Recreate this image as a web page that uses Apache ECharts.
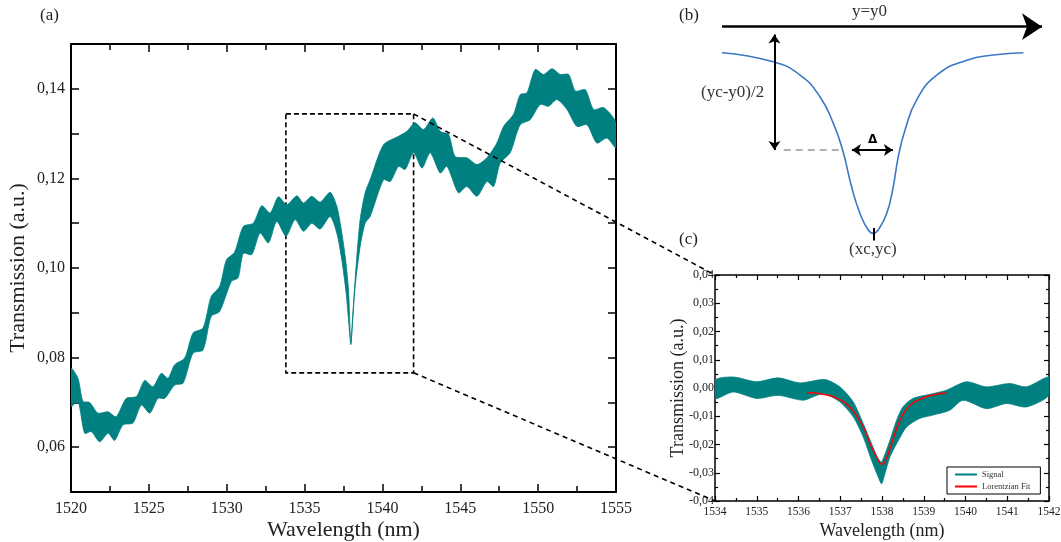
<!DOCTYPE html>
<html>
<head>
<meta charset="utf-8">
<script src="https://cdn.jsdelivr.net/npm/echarts@6/dist/echarts.min.js"></script>
<style>
html,body{margin:0;padding:0;background:#fff;}
#chart{width:1061px;height:542px;}
</style>
</head>
<body>
<div id="chart"></div>
<script>
// ---------- Panel (a): measured transmission band (upper / lower envelope) ----------
const mainUpX = [1520.0,1520.45,1520.77,1521.2,1521.73,1522.38,1522.9,1523.55,1524.2,1524.73,1525.27,1525.8,1526.23,1526.66,1527.3,1527.84,1528.48,1529.0,1529.55,1529.98,1530.5,1531.07,1531.71,1532.25,1532.79,1533.32,1533.86,1534.5,1534.93,1535.46,1536.0,1536.64,1537.07,1537.29,1537.61,1537.82,1537.97,1538.1,1538.31,1538.57,1538.89,1539.21,1540.07,1541.04,1541.57,1542.1,1542.64,1543.24,1543.71,1544.25,1544.67,1545.42,1546.07,1546.71,1547.35,1547.78,1548.42,1548.85,1549.28,1549.81,1550.35,1550.89,1551.42,1551.96,1552.39,1553.03,1553.56,1554.21,1555.0];
const mainUpY = [0.0776,0.0754,0.0702,0.0700,0.0676,0.0679,0.0668,0.0709,0.0713,0.0749,0.0735,0.0765,0.0754,0.0784,0.0799,0.0855,0.0866,0.0936,0.0959,0.1018,0.1035,0.1093,0.1100,0.1139,0.1123,0.1159,0.1141,0.1161,0.1145,0.1160,0.1147,0.1169,0.1138,0.1100,0.1026,0.0951,0.0832,0.0899,0.1004,0.1108,0.1168,0.1197,0.1275,0.1294,0.1305,0.1324,0.1309,0.1335,0.1305,0.1298,0.1249,0.1246,0.1231,0.1246,0.1279,0.1316,0.1343,0.1387,0.1391,0.1443,0.1432,0.1445,0.1432,0.1432,0.1395,0.1398,0.1354,0.1358,0.1324];
const mainLoX = [1520.0,1520.45,1520.88,1521.3,1521.84,1522.38,1522.8,1523.34,1523.98,1524.52,1525.06,1525.59,1526.02,1526.66,1527.2,1527.84,1528.48,1529.0,1529.55,1530.3,1530.73,1531.07,1531.61,1532.14,1532.68,1533.21,1533.81,1534.39,1534.93,1535.46,1536.0,1536.64,1537.07,1537.39,1537.67,1537.86,1537.97,1538.05,1538.25,1538.57,1538.89,1539.21,1540.07,1540.5,1541.04,1541.46,1542.0,1542.54,1543.07,1543.71,1544.14,1544.88,1545.42,1546.07,1546.71,1547.14,1547.56,1548.2,1548.85,1549.49,1550.13,1550.67,1551.2,1551.85,1552.49,1553.13,1553.77,1554.42,1555.0];
const mainLoY = [0.0691,0.0702,0.0631,0.0635,0.0612,0.0631,0.0615,0.0650,0.0654,0.0694,0.0676,0.0709,0.0709,0.0739,0.0743,0.0810,0.0817,0.0892,0.0903,0.0970,0.0978,0.1033,0.1030,0.1078,0.1056,0.1104,0.1071,0.1108,0.1082,0.1100,0.1087,0.1115,0.1078,0.1018,0.0944,0.0869,0.0829,0.0862,0.0959,0.1048,0.1100,0.1115,0.1197,0.1193,0.1227,0.1220,0.1257,0.1223,0.1257,0.1212,0.1227,0.1168,0.1182,0.1160,0.1193,0.1182,0.1234,0.1257,0.1320,0.1331,0.1365,0.1361,0.1376,0.1354,0.1316,0.1320,0.1279,0.1290,0.1268];
const mainXTickLabels = ['1520','1525','1530','1535','1540','1545','1550','1555'];
const mainYTicks = [0.06,0.08,0.10,0.12,0.14];
const mainYTickLabels = ['0,06','0,08','0,10','0,12','0,14'];
// zoom window drawn on panel (a)
const zoomBoxX = [1533.8, 1542.0];
const zoomBoxY = [0.0766, 0.1344];

// ---------- Panel (c): zoomed signal band + Lorentzian fit ----------
const insetUpX = [1534.0,1534.44,1535.0,1535.51,1536.03,1536.63,1536.99,1537.31,1537.55,1537.75,1537.91,1537.99,1538.19,1538.35,1538.5,1538.74,1539.22,1539.54,1540.02,1540.5,1541.06,1541.46,1542.0];
const insetUpY = [0.0028,0.0039,0.0022,0.0036,0.0018,0.0030,0.0004,-0.0049,-0.0126,-0.0197,-0.0250,-0.0262,-0.0185,-0.0114,-0.0067,-0.0037,-0.0020,-0.0008,0.0022,0.0004,0.0016,0.0004,0.0039];
const insetLoX = [1534.0,1534.44,1535.0,1535.51,1536.11,1536.59,1536.99,1537.31,1537.55,1537.75,1537.91,1537.99,1538.07,1538.19,1538.35,1538.59,1538.9,1539.22,1539.62,1539.94,1540.5,1540.98,1541.46,1542.0];
const insetLoY = [-0.0037,-0.0014,-0.0037,-0.0026,-0.0043,-0.0020,-0.0049,-0.0102,-0.0173,-0.0256,-0.0315,-0.0339,-0.0303,-0.0244,-0.0197,-0.0138,-0.0108,-0.0096,-0.0079,-0.0043,-0.0073,-0.0055,-0.0067,-0.0026];
const fitX = [1536.21,1536.83,1537.23,1537.55,1537.75,1537.91,1537.99,1538.07,1538.23,1538.43,1538.67,1539.06,1539.54];
const fitY = [-0.0016,-0.0031,-0.0067,-0.0138,-0.0209,-0.0256,-0.0270,-0.0262,-0.0197,-0.0114,-0.0061,-0.0031,-0.0017];
const insetXTickLabels = ['1534','1535','1536','1537','1538','1539','1540','1541','1542'];
const insetYTicks = [-0.04,-0.03,-0.02,-0.01,0,0.01,0.02,0.03,0.04];
const insetYTickLabels = ['-0,04','-0,03','-0,02','-0,01','0,00','0,01','0,02','0,03','0,04'];

// ---------- Panel (b): schematic Lorentzian dip (normalised units) ----------
const schemX = [0.0,0.160,0.244,0.306,0.348,0.377,0.405,0.431,0.457,0.473,0.488,0.515,0.535,0.551,0.572,0.608,0.671,0.765,0.848,0.942];
const schemY = [0.874,0.830,0.766,0.661,0.532,0.403,0.225,0.097,0.016,0.0,0.016,0.097,0.225,0.371,0.500,0.645,0.766,0.838,0.863,0.874];
const schemBaseline = 1.0;     // y = y0
const schemHalf = 0.403;       // half-depth level
const schemArrowX = 0.164;     // (yc-y0)/2 arrow position
const schemDeltaX = [0.406, 0.534];
const schemCenterX = 0.473;

const FONT = 'Liberation Serif';
const TXT = '#222';

function pickLabel(ticks, labels) {
  return function (v) {
    for (let i = 0; i < ticks.length; i++) if (Math.abs(v - ticks[i]) < 1e-7) return labels[i];
    return '';
  };
}
function xLabel(labels) {
  return function (v) {
    for (let i = 0; i < labels.length; i++) if (Math.abs(v - Number(labels[i])) < 1e-7) return labels[i];
    return '';
  };
}
function bandRender(xu, yu, xl, yl) {
  return function (params, api) {
    const pts = [];
    for (let i = 0; i < xu.length; i++) pts.push(api.coord([xu[i], yu[i]]));
    for (let i = xl.length - 1; i >= 0; i--) pts.push(api.coord([xl[i], yl[i]]));
    const cs = params.coordSys;
    return {
      type: 'polygon',
      shape: { points: pts, smooth: 0.25 },
      style: { fill: '#008080', stroke: '#008080', lineWidth: 0.8 },
      clipPath: { type: 'rect', shape: { x: cs.x, y: cs.y, width: cs.width, height: cs.height } }
    };
  };
}

const mainAxisLine = { show: true, onZero: false, lineStyle: { color: '#000', width: 2 } };
const insetAxisLine = { show: true, onZero: false, lineStyle: { color: '#000', width: 1.5 } };

const chart = echarts.init(document.getElementById('chart'), null, { renderer: 'canvas' });

const option = {
  animation: false,
  backgroundColor: '#fff',
  textStyle: { fontFamily: FONT, color: TXT },
  grid: [
    { left: 71, right: 445, top: 44, bottom: 50, containLabel: false, outerBoundsMode: 'none' },
    { left: 715, right: 12, top: 275, bottom: 41, containLabel: false, outerBoundsMode: 'none' },
    { left: 722, width: 320, top: 26.7, height: 247.9, containLabel: false, outerBoundsMode: 'none' }
  ],
  legend: {
    data: [
      { name: 'Signal', icon: 'rect' },
      { name: 'Lorentzian Fit', icon: 'rect' }
    ],
    orient: 'vertical',
    left: 947, top: 467,
    itemWidth: 22, itemHeight: 2, itemGap: 3,
    padding: [3, 10, 3, 8],
    borderColor: '#000', borderWidth: 1,
    backgroundColor: '#fff',
    textStyle: { fontFamily: FONT, fontSize: 8.5, color: '#333' },
    selectedMode: false
  },
  xAxis: [
    { gridIndex: 0, type: 'value', min: 1520, max: 1555, interval: 5,
      axisLine: mainAxisLine,
      axisTick: { show: true, inside: true, length: 8, lineStyle: { color: '#000', width: 1.5 } },
      minorTick: { show: true, splitNumber: 2, length: 6, lineStyle: { color: '#000', width: 1.5 } },
      splitLine: { show: false },
      axisLabel: { formatter: xLabel(mainXTickLabels), fontFamily: FONT, fontSize: 16, color: TXT, margin: 9 },
      name: 'Wavelength (nm)', nameLocation: 'middle', nameGap: 27, nameMoveOverlap: false,
      nameTextStyle: { fontFamily: FONT, fontSize: 22, color: TXT } },
    { gridIndex: 0, type: 'value', position: 'top', min: 1520, max: 1555, interval: 5,
      axisLine: mainAxisLine,
      axisTick: { show: true, inside: true, length: 8, lineStyle: { color: '#000', width: 1.5 } },
      minorTick: { show: true, splitNumber: 2, length: 6, lineStyle: { color: '#000', width: 1.5 } },
      splitLine: { show: false }, axisLabel: { show: false } },
    { gridIndex: 1, type: 'value', min: 1534, max: 1542, interval: 1,
      axisLine: insetAxisLine,
      axisTick: { show: true, inside: true, length: 5, lineStyle: { color: '#000', width: 1.2 } },
      minorTick: { show: true, splitNumber: 2, length: 3, lineStyle: { color: '#000', width: 1.2 } },
      splitLine: { show: false },
      axisLabel: { formatter: xLabel(insetXTickLabels), fontFamily: FONT, fontSize: 11.5, color: TXT, margin: 5 },
      name: 'Wavelength (nm)', nameLocation: 'middle', nameGap: 21, nameMoveOverlap: false,
      nameTextStyle: { fontFamily: FONT, fontSize: 18, color: TXT } },
    { gridIndex: 1, type: 'value', position: 'top', min: 1534, max: 1542, interval: 1,
      axisLine: insetAxisLine,
      axisTick: { show: true, inside: true, length: 5, lineStyle: { color: '#000', width: 1.2 } },
      minorTick: { show: true, splitNumber: 2, length: 3, lineStyle: { color: '#000', width: 1.2 } },
      splitLine: { show: false }, axisLabel: { show: false } },
    { gridIndex: 2, type: 'value', min: 0, max: 1, show: false }
  ],
  yAxis: [
    { gridIndex: 0, type: 'value', min: 0.05, max: 0.15, interval: 0.01,
      axisLine: mainAxisLine,
      axisTick: { show: true, inside: true, length: 8, lineStyle: { color: '#000', width: 1.5 } },
      splitLine: { show: false },
      axisLabel: { formatter: pickLabel(mainYTicks, mainYTickLabels), fontFamily: FONT, fontSize: 16, color: TXT, margin: 6 },
      name: 'Transmission (a.u.)', nameLocation: 'middle', nameGap: 42, nameMoveOverlap: false,
      nameTextStyle: { fontFamily: FONT, fontSize: 22, color: TXT } },
    { gridIndex: 0, type: 'value', position: 'right', min: 0.05, max: 0.15, interval: 0.01,
      axisLine: mainAxisLine,
      axisTick: { show: true, inside: true, length: 8, lineStyle: { color: '#000', width: 1.5 } },
      splitLine: { show: false }, axisLabel: { show: false } },
    { gridIndex: 1, type: 'value', min: -0.04, max: 0.04, interval: 0.01,
      axisLine: insetAxisLine,
      axisTick: { show: true, inside: true, length: 5, lineStyle: { color: '#000', width: 1.2 } },
      minorTick: { show: true, splitNumber: 2, length: 3, lineStyle: { color: '#000', width: 1.2 } },
      splitLine: { show: false },
      axisLabel: { formatter: pickLabel(insetYTicks, insetYTickLabels), fontFamily: FONT, fontSize: 12, color: TXT, margin: 1 },
      name: 'Transmission (a.u.)', nameLocation: 'middle', nameGap: 28, nameMoveOverlap: false,
      nameTextStyle: { fontFamily: FONT, fontSize: 18, color: TXT } },
    { gridIndex: 1, type: 'value', position: 'right', min: -0.04, max: 0.04, interval: 0.01,
      axisLine: insetAxisLine,
      axisTick: { show: true, inside: true, length: 5, lineStyle: { color: '#000', width: 1.2 } },
      minorTick: { show: true, splitNumber: 2, length: 3, lineStyle: { color: '#000', width: 1.2 } },
      splitLine: { show: false }, axisLabel: { show: false } },
    { gridIndex: 2, type: 'value', min: -0.2, max: 1, show: false }
  ],
  series: [
    { type: 'custom', name: 'Main', xAxisIndex: 0, yAxisIndex: 0,
      renderItem: bandRender(mainUpX, mainUpY, mainLoX, mainLoY),
      data: [[1530, 0.1]], itemStyle: { color: '#008080' }, silent: true, z: 2 },
    { type: 'line', name: 'ZoomBox', xAxisIndex: 0, yAxisIndex: 0, data: [], z: 5, silent: true,
      markArea: { silent: true,
        itemStyle: { color: 'rgba(0,0,0,0)', borderColor: '#000', borderWidth: 1.6, borderType: [5, 3] },
        label: { show: false },
        data: [[{ coord: [zoomBoxX[0], zoomBoxY[1]] }, { coord: [zoomBoxX[1], zoomBoxY[0]] }]] } },
    { type: 'custom', name: 'Signal', xAxisIndex: 2, yAxisIndex: 2,
      renderItem: bandRender(insetUpX, insetUpY, insetLoX, insetLoY),
      data: [[1538, 0]], itemStyle: { color: '#008080' }, silent: true, z: 2 },
    { type: 'line', name: 'Lorentzian Fit', xAxisIndex: 2, yAxisIndex: 2,
      data: fitX.map((x, i) => [x, fitY[i]]), smooth: 0.4, showSymbol: false, symbol: 'none',
      lineStyle: { color: '#ff0000', width: 1.5 }, itemStyle: { color: '#ff0000' }, z: 4, silent: true },
    { type: 'line', name: 'Schematic', xAxisIndex: 4, yAxisIndex: 4,
      data: schemX.map((x, i) => [x, schemY[i]]), smooth: 0.5, showSymbol: false, symbol: 'none',
      lineStyle: { color: '#3b78c4', width: 1.6 }, silent: true,
      markLine: {
        silent: true, animation: false, label: { show: false },
        data: [
          [{ coord: [0, schemBaseline], symbol: 'none', lineStyle: { color: '#000', width: 2.5, type: 'solid' } },
           { coord: [1, schemBaseline], symbol: 'arrow', symbolSize: 20 }],
          [{ coord: [schemArrowX, 0.962], symbol: 'arrow', symbolSize: 9, lineStyle: { color: '#000', width: 2, type: 'solid' } },
           { coord: [schemArrowX, schemHalf], symbol: 'arrow', symbolSize: 9 }],
          [{ coord: [0.193, schemHalf], symbol: 'none', lineStyle: { color: '#999', width: 1.5, type: [7, 5] } },
           { coord: [0.37, schemHalf], symbol: 'none' }],
          [{ coord: [schemDeltaX[0], schemHalf], symbol: 'arrow', symbolSize: 9, lineStyle: { color: '#000', width: 2, type: 'solid' } },
           { coord: [schemDeltaX[1], schemHalf], symbol: 'arrow', symbolSize: 9 }],
          [{ coord: [schemCenterX, 0.026], symbol: 'none', lineStyle: { color: '#000', width: 2, type: 'solid' } },
           { coord: [schemCenterX, -0.035], symbol: 'none' }]
        ]
      } }
  ]
};
chart.setOption(option);

// dashed connectors from zoom box corners to inset plot corners
const pTop = chart.convertToPixel({ gridIndex: 0 }, [zoomBoxX[1], zoomBoxY[1]]);
const pBot = chart.convertToPixel({ gridIndex: 0 }, [zoomBoxX[1], zoomBoxY[0]]);
const qTop = chart.convertToPixel({ gridIndex: 1 }, [1534, 0.04]);
const qBot = chart.convertToPixel({ gridIndex: 1 }, [1534, -0.04]);
const dashStyle = { stroke: '#000', lineWidth: 1.6, lineDash: [5, 4] };

chart.setOption({
  graphic: [
    { type: 'line', z: 50, shape: { x1: pTop[0], y1: pTop[1], x2: qTop[0], y2: qTop[1] }, style: dashStyle, silent: true },
    { type: 'line', z: 50, shape: { x1: pBot[0], y1: pBot[1], x2: qBot[0], y2: qBot[1] }, style: dashStyle, silent: true },
    { type: 'text', left: 40, top: 7, style: { text: '(a)', font: '17px "Liberation Serif"', fill: TXT } },
    { type: 'text', left: 679, top: 7, style: { text: '(b)', font: '17px "Liberation Serif"', fill: TXT } },
    { type: 'text', left: 679, top: 231, style: { text: '(c)', font: '17px "Liberation Serif"', fill: TXT } },
    { type: 'text', left: 852, top: 3, style: { text: 'y=y0', font: '17px "Liberation Serif"', fill: '#333' } },
    { type: 'text', left: 701, top: 84, style: { text: '(yc-y0)/2', font: '17px "Liberation Serif"', fill: '#333' } },
    { type: 'text', left: 849, top: 241, style: { text: '(xc,yc)', font: '17px "Liberation Serif"', fill: '#333' } },
    { type: 'text', left: 868, top: 134, style: { text: 'Δ', font: 'bold 12px "DejaVu Sans"', fill: '#000' } }
  ]
});
</script>
</body>
</html>
